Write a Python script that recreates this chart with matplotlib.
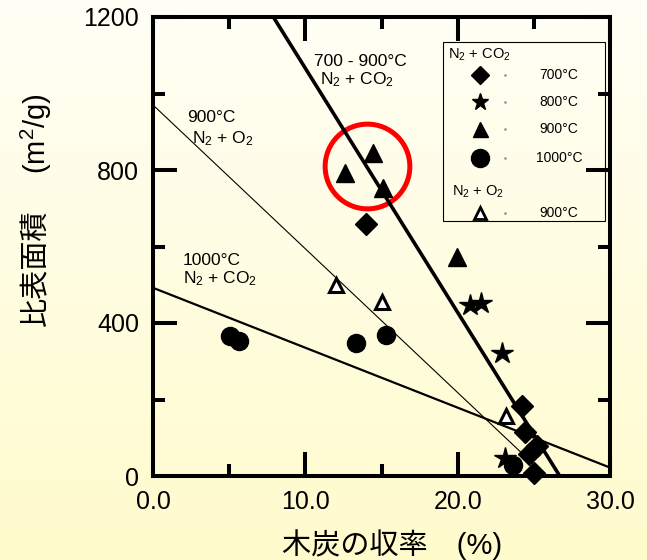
import numpy as np
import matplotlib.pyplot as plt
from matplotlib.patches import Rectangle

plt.rcParams['font.family'] = ['Liberation Sans', 'Noto Sans CJK JP']
plt.rcParams['mathtext.fontset'] = 'custom'
plt.rcParams['mathtext.rm'] = 'Liberation Sans'
plt.rcParams['mathtext.it'] = 'Liberation Sans:italic'
plt.rcParams['mathtext.bf'] = 'Liberation Sans:bold'

# charcoal yield (%) vs specific surface area (m2/g)
x_700 = [14.0, 24.2, 24.4, 25.2, 24.7, 25.0]
y_700 = [660, 182, 115, 78, 58, 8]
x_800 = [20.8, 21.5, 22.9, 23.1]
y_800 = [447, 452, 321, 48]
x_900 = [12.6, 14.45, 15.1, 19.95]
y_900 = [792, 844, 753, 573]
x_1000 = [5.06, 5.65, 13.3, 15.3, 23.6]
y_1000 = [366, 353, 348, 368, 30]
x_o2_900 = [12.0, 15.0, 23.2]
y_o2_900 = [499, 455, 157]

# regression lines (end points)
fit_co2_x = [7.9, 26.7]
fit_co2_y = [1200, 0]
fit_o2_x = [0, 25.8]
fit_o2_y = [970, 0]
fit_co2_1000_x = [0, 30]
fit_co2_1000_y = [492, 22]

# red highlight around the 900C points
circle_x = [14.05]
circle_y = [810]

legend_labels = ['700°C', '800°C', '900°C', '1000°C']

fig = plt.figure(figsize=(6.47, 5.6), dpi=100)

# background gradient
bg = fig.add_axes([0, 0, 1, 1], zorder=-10)
top = np.array([255, 255, 246]) / 255
bot = np.array([255, 251, 204]) / 255
t = np.linspace(0, 1, 256)[:, None, None]
grad = (1 - t) * top + t * bot
bg.imshow(grad, aspect='auto', extent=[0, 1, 0, 1])
bg.axis('off')

ax = fig.add_axes([153 / 647, 1 - 476 / 560, 457 / 647, 459 / 560])
ax.set_facecolor('none')

ax.plot(circle_x, circle_y, 'o', ms=61, mfc='none', mec='red', mew=3.6, zorder=1)

ax.plot(fit_co2_x, fit_co2_y, color='black', lw=2.6, zorder=2)
ax.plot(fit_o2_x, fit_o2_y, color='black', lw=0.8, zorder=2)
ax.plot(fit_co2_1000_x, fit_co2_1000_y, color='black', lw=1.6, zorder=2)

kw = dict(ls='none', color='black', clip_on=False, zorder=3)
ax.plot(x_700, y_700, marker='D', ms=11.5, **kw)
ax.plot(x_800, y_800, marker='*', ms=16, **kw)
ax.plot(x_900, y_900, marker='^', ms=13.5, **kw)
ax.plot(x_1000, y_1000, marker='o', ms=13, **kw)
ax.plot(x_o2_900, y_o2_900, marker='^', ms=10, mfc='white', mec='black',
        mew=2.2, ls='none', clip_on=False, zorder=3)

ax.set_xlim(0, 30)
ax.set_ylim(0, 1200)
ax.set_xticks([0, 10, 20, 30])
ax.set_xticklabels(['0.0', '10.0', '20.0', '30.0'])
ax.set_xticks([5, 15, 25], minor=True)
ax.set_yticks([0, 400, 800, 1200])
ax.set_yticks([200, 600, 1000], minor=True)
ax.tick_params(which='both', direction='in', top=True, right=True, width=2.9)
ax.tick_params(which='major', length=17, labelsize=18, pad=10)
ax.tick_params(which='minor', length=8.6)
for s in ax.spines.values():
    s.set_linewidth(2.9)

# line annotations
ax.text(10.6, 1072, '700 - 900°C', fontsize=12.5)
ax.text(10.95, 1025, 'N$_2$ + CO$_2$', fontsize=12.5)
ax.text(2.23, 925, '900°C', fontsize=12.5)
ax.text(2.55, 871, 'N$_2$ + O$_2$', fontsize=12.5)
ax.text(1.97, 552, '1000°C', fontsize=12.5)
ax.text(1.97, 505, 'N$_2$ + CO$_2$', fontsize=12.5)

# legend box drawn by hand
tr = ax.transAxes
ax.add_patch(Rectangle((0.635, 0.5556), 0.354, 0.39, transform=tr, fill=False,
                       lw=0.8, ec='black', zorder=4))
ax.text(0.6455, 0.917, 'N$_2$ + CO$_2$', transform=tr, fontsize=10.5, va='center')
ax.text(0.654, 0.6187, 'N$_2$ + O$_2$', transform=tr, fontsize=10.5, va='center')
leg_rows = [0.8736, 0.8148, 0.756, 0.6928]
leg_marks = [('D', 8.7), ('*', 12.5), ('^', 10.8), ('o', 13)]
for yy, (m, size), lab in zip(leg_rows, leg_marks, legend_labels):
    ax.plot([0.7155], [yy], marker=m, ms=size, color='black', transform=tr,
            clip_on=False, zorder=4)
    ax.plot([0.770], [yy], marker='.', ms=1.5, color='gray', transform=tr,
            clip_on=False, zorder=4)
    ax.text(0.888, yy, lab, transform=tr, fontsize=10, ha='center', va='center')
ax.plot([0.7155], [0.573], marker='^', ms=8, mfc='white', mec='black', mew=2,
        transform=tr, clip_on=False, zorder=4)
ax.plot([0.770], [0.573], marker='.', ms=1.5, color='gray', transform=tr,
        clip_on=False, zorder=4)
ax.text(0.888, 0.573, '900°C', transform=tr, fontsize=10, ha='center', va='center')

# axis labels
fig.text(392 / 647, 1 - 545 / 560, '木炭の収率\u3000(%)', fontsize=21,
         ha='center', va='center')
fig.text(36 / 647, 1 - 268 / 560, '比表面積', fontsize=21, rotation=90,
         ha='center', va='center')
fig.text(36 / 647, 1 - 134 / 560, '(m$^2$/g)', fontsize=21, rotation=90,
         ha='center', va='center')

fig.savefig('out.png', dpi=100)
